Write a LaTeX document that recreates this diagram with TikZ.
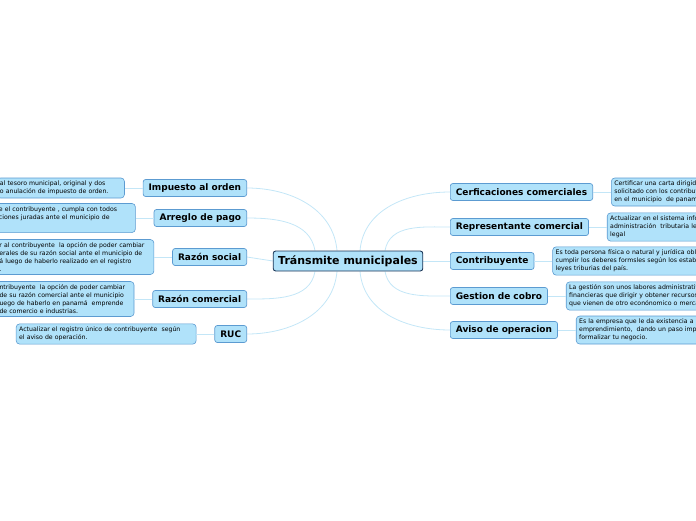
\documentclass[tikz,border=0pt]{standalone}
\usepackage{fontspec}
\setmainfont{DejaVu Sans}
\usepackage{tikz}
\usetikzlibrary{positioning,backgrounds}
\definecolor{mmfill}{HTML}{B0E2FA}
\definecolor{mmedge}{HTML}{5C9BD1}
\definecolor{mmroot}{HTML}{1B3556}
\definecolor{mmlink}{HTML}{C3E6F7}

\begin{document}
\begin{tikzpicture}[x=1pt,y=-1pt,
node distance=18pt,
root/.style={draw=mmroot,line width=0.9pt,fill=mmfill,rounded corners=2.5pt,
font=\fontsize{11}{13}\selectfont\bfseries,inner xsep=5pt,minimum height=20pt},
topic/.style={draw=mmedge,line width=0.7pt,fill=mmfill,rounded corners=2.5pt,
font=\fontsize{9}{11}\selectfont\bfseries,inner xsep=5.5pt,minimum height=17pt},
note/.style={draw=mmedge,line width=0.6pt,fill=mmfill,rounded corners=3.5pt,
font=\fontsize{6.2}{8}\selectfont,align=left,inner xsep=3pt,inner ysep=3pt},
link/.style={draw=mmlink,line width=0.8pt},
twig/.style={draw=mmlink,line width=1pt}
]
\useasboundingbox (0,0) rectangle (696,520);
\clip (0,0) rectangle (696,520);

% centre
\node[root] (root) at (348,261) {Tránsmite municipales};

% left topics
\node[topic,anchor=east] (imp) at (247,188) {Impuesto al orden};
\node[topic,anchor=east] (arr) at (247,218) {Arreglo de pago};
\node[topic,anchor=east] (soc) at (247,257) {Razón social};
\node[topic,anchor=east] (com) at (247,299) {Razón comercial};
\node[topic,anchor=east] (ruc) at (247,334) {RUC};

% right topics
\node[topic,anchor=west] (cer) at (450,192) {Cerficaciones comerciales};
\node[topic,anchor=west] (rep) at (450,227) {Representante comercial};
\node[topic,anchor=west] (con) at (450,261) {Contribuyente};
\node[topic,anchor=west] (ges) at (450,296) {Gestion de cobro};
\node[topic,anchor=west] (avi) at (450,330) {Aviso de operacion};

% left notes
\node[note,text width=121.5pt,left=of imp] (nimp)
{al tesoro municipal, original y dos\\
o anulación de impuesto de orden.};
\node[note,text width=133.5pt,left=of arr] (narr)
{e el contribuyente , cumpla con todos\\
ciones juradas ante el municipio de\\ \strut};
\node[note,text width=151.5pt,left=of soc] (nsoc)
{r al contribuyente\ \ la opción de poder cambiar\\
erales de su razón social ante el municipio de\\
á luego de haberlo realizado en el registro\\
.};
\node[note,text width=131.5pt,left=of com] (ncom)
{ntribuyente\ \ la opción de poder cambiar\\
de su razón comercial ante el municipio\\
uego de haberlo en panamá\ \ emprende\\
de comercio e industrias.};
\node[note,text width=174pt,left=of ruc] (nruc)
{Actualizar el registro único de contribuyente\ \ según\\
el aviso de operación.};

% right notes
\node[note,text width=200pt,right=of cer] (ncer)
{Certificar una carta dirigida\\
solicitado con los contribuyentes\\
en el municipio\ \ de panamá};
\node[note,text width=200pt,right=of rep] (nrep)
{Actualizar en el sistema informático\\
administración\ \ tributaria le\\
legal};
\node[note,text width=200pt,right=of con] (ncon)
{Es toda persona física o natural y jurídica obligada\\
cumplir los deberes formsles según los establecido\\
leyes triburias del país.};
\node[note,text width=200pt,right=of ges] (nges)
{La gestión son unos labores administrativas\\
financieras que dirigir y obtener recursos\\
que vienen de otro econónomico o mercado};
\node[note,text width=200pt,right=of avi] (navi)
{Es la empresa que le da existencia a\\
emprendimiento,\ \ dando un paso importante\\
formalizar tu negocio.};

\begin{scope}[on background layer]
\draw[link] ([xshift=-11pt]root.north) to[out=95,in=0] (imp.east);
\draw[link] ([xshift=-33pt]root.north) to[out=100,in=0] (arr.east);
\draw[link] (root.west) -- (soc.east);
\draw[link] ([xshift=-33pt]root.south) to[out=-100,in=0] (com.east);
\draw[link] ([xshift=-11pt]root.south) to[out=-95,in=0] (ruc.east);
\draw[link] ([xshift=12pt]root.north) to[out=85,in=180] (cer.west);
\draw[link] ([xshift=37pt]root.north) to[out=80,in=180] (rep.west);
\draw[link] (root.east) -- (con.west);
\draw[link] ([xshift=37pt]root.south) to[out=-80,in=180] (ges.west);
\draw[link] ([xshift=12pt]root.south) to[out=-85,in=180] (avi.west);
\end{scope}

\draw[twig] (imp) -- (nimp);
\draw[twig] (arr) -- (narr);
\draw[twig] (soc) -- (nsoc);
\draw[twig] (com) -- (ncom);
\draw[twig] (ruc) -- (nruc);
\draw[twig] (cer) -- (ncer);
\draw[twig] (rep) -- (nrep);
\draw[twig] (con) -- (ncon);
\draw[twig] (ges) -- (nges);
\draw[twig] (avi) -- (navi);
\end{tikzpicture}
\end{document}
